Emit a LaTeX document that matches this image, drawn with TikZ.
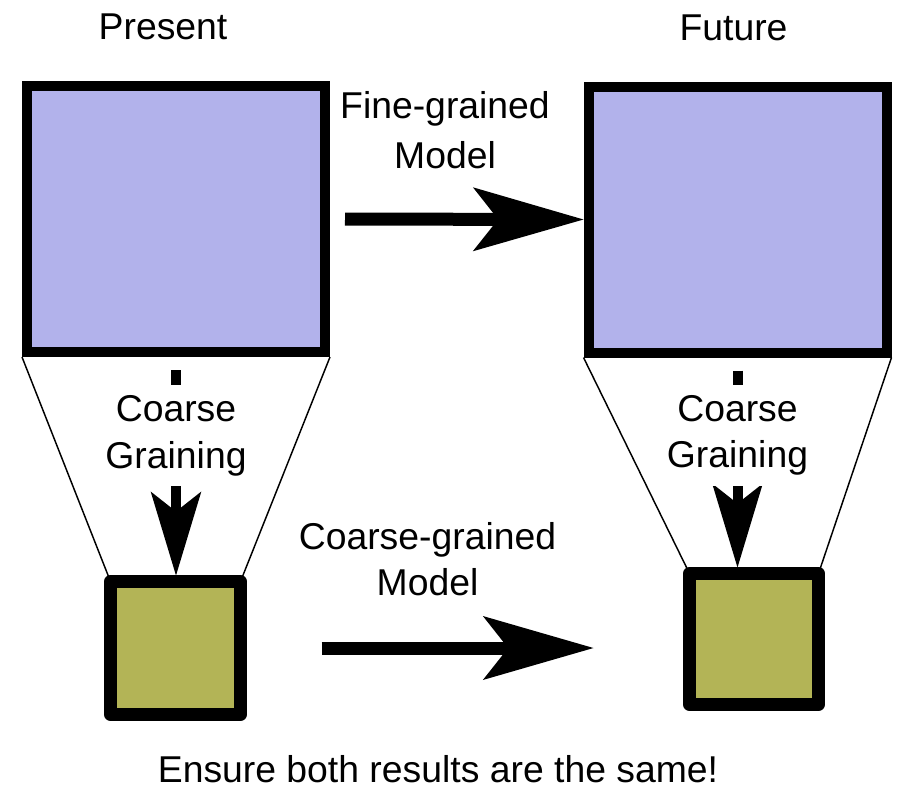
\documentclass[tikz,border=0pt]{standalone}
\usepackage{fontspec}
\setmainfont{Liberation Sans}
\usetikzlibrary{arrows.meta}
\definecolor{finecol}{RGB}{178,178,235}
\definecolor{coarsecol}{RGB}{179,180,86}

\begin{document}
\begin{tikzpicture}[x=0.75pt, y=-0.75pt, font=\fontsize{28}{35}\selectfont,
  bigbox/.style={draw, line width=7.5pt, fill=finecol, minimum width=223.5pt, minimum height=199.5pt},
  smallbox/.style={draw, line width=9.75pt, line join=round, fill=coarsecol, outer sep=0pt},
  wire/.style={line width=1.1pt},
  cgarrow/.style={line width=7.5pt, shorten <=9.75pt, shorten >=4.5pt,
    -{Stealth[length=63pt, width=38pt, inset=15pt, line width=0pt]}},
  modelarrow/.style={line width=9.75pt,
    -{Stealth[length=83pt, width=48pt, inset=19pt, line width=0pt]}},
  txt/.style={align=center, inner sep=0pt}]
  \useasboundingbox (0,0) rectangle (897,790);
  % the two states
  \node[bigbox] (big1) at (176,219) {};
  \node[bigbox] (big2) at (737.5,219.5) {};
  \node[smallbox, minimum width=97.5pt, minimum height=99.75pt] (small1) at (175.5,648) {};
  \node[smallbox, minimum width=96.75pt, minimum height=98.25pt] (small2) at (754,639) {};
  % projection lines
  \draw[wire] (big1.south west) -- (small1.north west);
  \draw[wire] (big1.south east) -- (small1.north east);
  \draw[wire] (big2.south west) -- (small2.north west);
  \draw[wire] (big2.south east) -- (small2.north east);
  % coarse graining
  \draw[cgarrow] (big1.south) -- (big1.south |- small1.north)
    node[txt, pos=0.35, fill=white, inner ysep=7.5pt, inner xsep=3pt] (cg1) {Coarse\\Graining};
  \draw[cgarrow] (big2.south) -- (big2.south |- small2.north)
    node[txt, pos=0.36, fill=white, inner ysep=7.5pt, inner xsep=3pt] (cg2) {Coarse\\Graining};
  % models
  \draw[modelarrow, shorten <=11.25pt] (big1.east) -- (big2.west);
  \draw[modelarrow, shorten <=60.75pt, shorten >=72pt] (small1.east) -- (small1.east -| small2.west);
  \node[txt] (fine) at (445,130) {Fine-grained\\[2pt]Model};
  \node[txt] (coarse) at (427.5,559) {Coarse-grained\\Model};
  % captions
  \node[anchor=base, inner sep=0pt] (present) at (163,39) {Present};
  \node[anchor=base, inner sep=0pt] (future) at (733.5,40) {Future};
  \node[anchor=base, inner sep=0pt] (same) at (438,782) {Ensure both results are the same!};
\end{tikzpicture}
\end{document}
